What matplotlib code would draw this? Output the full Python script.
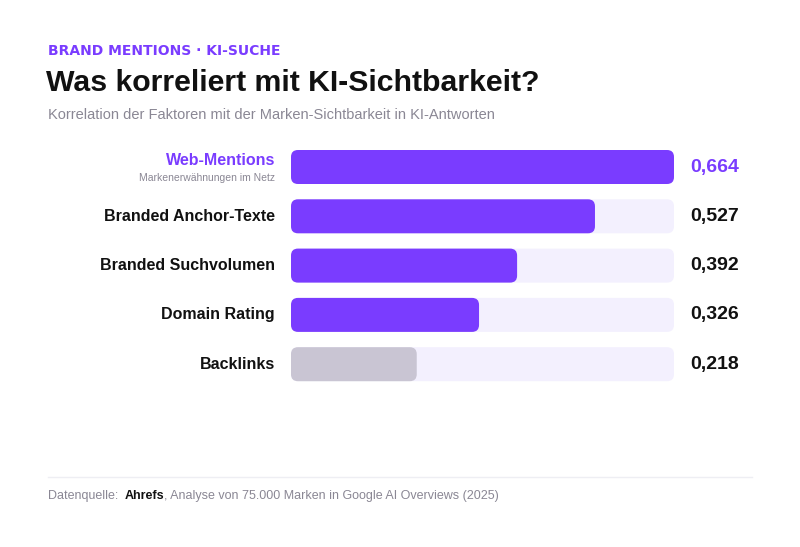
import matplotlib.pyplot as plt
from matplotlib.patches import FancyBboxPatch

plt.rcParams["font.family"] = ["Liberation Sans", "DejaVu Sans"]

labels = ["Web-Mentions", "Branded Anchor-Texte", "Branded Suchvolumen", "Domain Rating", "Backlinks"]
values = [0.664, 0.527, 0.392, 0.326, 0.218]
value_text = ["0,664", "0,527", "0,392", "0,326", "0,218"]

PURPLE = "#7a3cff"
TRACK = "#f3f0fe"
GREY_BAR = "#c9c5d3"
GREY_TXT = "#8a8794"

W, H = 800, 547
fig = plt.figure(figsize=(8, 5.47), dpi=100)
fig.patch.set_facecolor("white")

def fy(px):
    return 1 - px / H

fig.text(48 / W, fy(51), "BRAND MENTIONS · KI-SUCHE", color=PURPLE, fontsize=10,
         fontweight="bold", va="center", family="DejaVu Sans")
fig.text(46 / W, fy(83), "Was korreliert mit KI-Sichtbarkeit?", color="#111111", fontsize=21.8,
         fontweight="bold", va="center")
fig.text(48 / W, fy(115), "Korrelation der Faktoren mit der Marken-Sichtbarkeit in KI-Antworten",
         color=GREY_TXT, fontsize=10.5, va="center")

pitch = 49.3
x0, x1 = 291, 674
top = 167 - pitch / 2
ax = fig.add_axes([x0 / W, fy(top + 5 * pitch), (x1 - x0) / W, 5 * pitch / H])
vmax = max(values)
ax.set_xlim(0, vmax)
ax.set_ylim(4.5, -0.5)
ax.axis("off")

bh = 34 / pitch
xpp = vmax / (x1 - x0)
ypp = 1 / pitch
r = 7 * xpp
aspect = ypp / xpp

for i, (lab, v, vt) in enumerate(zip(labels, values, value_text)):
    ax.add_patch(FancyBboxPatch((0, i - bh / 2), vmax, bh,
                                boxstyle=f"round,pad=0,rounding_size={r}",
                                mutation_aspect=aspect, fc=TRACK, ec="none"))
    col = PURPLE if i < 4 else GREY_BAR
    ax.add_patch(FancyBboxPatch((0, i - bh / 2), v, bh,
                                boxstyle=f"round,pad=0,rounding_size={r}",
                                mutation_aspect=aspect, fc=col, ec="none"))
    ax.text(vmax + 16 * xpp, i, vt, ha="left", va="center", fontsize=14, fontweight="bold",
            color=PURPLE if i == 0 else "#111111", clip_on=False)
    if i == 0:
        ax.text(-16 * xpp, i - 0.14, lab, ha="right", va="center", fontsize=11.5,
                fontweight="bold", color=PURPLE, clip_on=False)
        ax.text(-16 * xpp, i + 0.22, "Markenerwähnungen im Netz", ha="right", va="center",
                fontsize=7.5, color=GREY_TXT, clip_on=False)
    else:
        ax.text(-16 * xpp, i, lab, ha="right", va="center", fontsize=11.5,
                fontweight="bold", color="#111111", clip_on=False)

fig.add_artist(plt.Line2D([48 / W, 752 / W], [fy(477), fy(477)], color="#eeeef3", lw=1))
t1 = fig.text(48 / W, fy(496), "Datenquelle: ", color=GREY_TXT, fontsize=9, va="center")
t2 = fig.text(0, 0, "Ahrefs", color="#111111", fontsize=9, fontweight="bold", va="center")
t3 = fig.text(0, 0, ", Analyse von 75.000 Marken in Google AI Overviews (2025)",
              color=GREY_TXT, fontsize=9, va="center")
r_ = fig.canvas.get_renderer()
e1 = t1.get_window_extent(r_)
t2.set_position((e1.x1 / W + 3 / W, fy(496)))
e2 = t2.get_window_extent(r_)
t3.set_position((e2.x1 / W, fy(496)))

fig.savefig("out.png", dpi=100, facecolor="white")
